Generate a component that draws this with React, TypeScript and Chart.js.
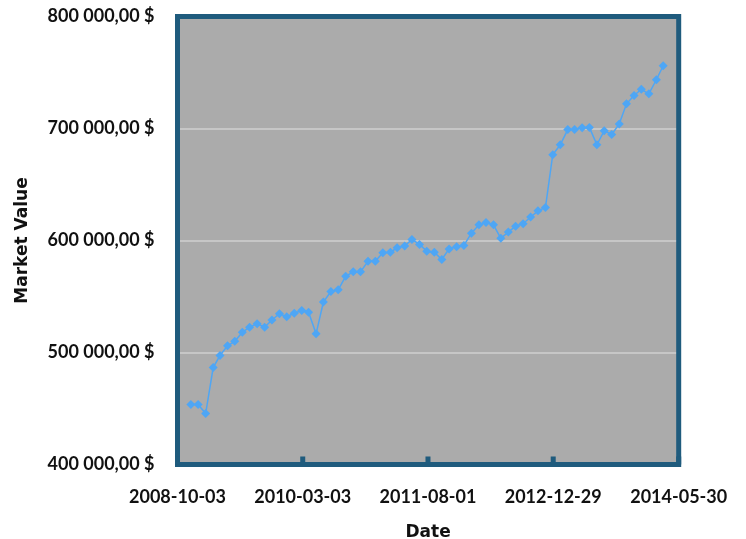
import React, { useEffect, useRef } from "react";
import { Chart, registerables } from "chart.js";

Chart.register(...registerables);

const dates: string[] = [
  "2008-11-27", "2008-12-27",
  "2009-01-27", "2009-02-27", "2009-03-27", "2009-04-27", "2009-05-27", "2009-06-27",
  "2009-07-27", "2009-08-27", "2009-09-27", "2009-10-27", "2009-11-27", "2009-12-27",
  "2010-01-27", "2010-02-27", "2010-03-27", "2010-04-27", "2010-05-27", "2010-06-27",
  "2010-07-27", "2010-08-27", "2010-09-27", "2010-10-27", "2010-11-27", "2010-12-27",
  "2011-01-27", "2011-02-27", "2011-03-27", "2011-04-27", "2011-05-27", "2011-06-27",
  "2011-07-27", "2011-08-27", "2011-09-27", "2011-10-27", "2011-11-27", "2011-12-27",
  "2012-01-27", "2012-02-27", "2012-03-27", "2012-04-27", "2012-05-27", "2012-06-27",
  "2012-07-27", "2012-08-27", "2012-09-27", "2012-10-27", "2012-11-27", "2012-12-27",
  "2013-01-27", "2013-02-27", "2013-03-27", "2013-04-27", "2013-05-27", "2013-06-27",
  "2013-07-27", "2013-08-27", "2013-09-27", "2013-10-27", "2013-11-27", "2013-12-27",
  "2014-01-27", "2014-02-27", "2014-03-27",
];

const marketValues: number[] = [
  453600, 453600,
  445500, 486500, 497300, 506000, 510000, 518000,
  522600, 525600, 522600, 529000, 534600, 532000,
  535000, 537500, 536000, 516700, 545000, 554500,
  556000, 568000, 572000, 572000, 581500, 581500,
  589000, 589600, 593500, 595000, 601000, 596500,
  590500, 589600, 583000, 592500, 594500, 595600,
  606500, 614000, 616000, 614000, 602000, 607500,
  612800, 615000, 621000, 626500, 629500, 676600,
  685500, 699000, 699000, 700700, 701000, 685500,
  698000, 694700, 704000, 722000, 729500, 735000,
  731000, 743500, 756000,
];

const xTickLabels: string[] = ["2008-10-03", "2010-03-03", "2011-08-01", "2012-12-29", "2014-05-30"];
const yTickValues: number[] = [400000, 500000, 600000, 700000, 800000];

const toMs = (s: string) => Date.parse(s + "T00:00:00Z");
const xTickMs = xTickLabels.map(toMs);

function formatMoney(v: number): string {
  const s = Math.round(v).toString();
  const grouped = s.replace(/\B(?=(\d{3})+(?!\d))/g, " ");
  return grouped + ",00 $";
}

const BORDER = "#1f5b7d";

const framePlugin = {
  id: "frame",
  beforeDraw(chart: any) {
    const { ctx, chartArea: a } = chart;
    ctx.save();
    ctx.fillStyle = "#ababab";
    ctx.fillRect(a.left, a.top, a.right - a.left, a.bottom - a.top);
    ctx.restore();
  },
  afterDraw(chart: any) {
    const { ctx, chartArea: a } = chart;
    ctx.save();
    ctx.strokeStyle = BORDER;
    ctx.lineWidth = 5;
    ctx.strokeRect(a.left, a.top, a.right - a.left, a.bottom - a.top);
    ctx.fillStyle = BORDER;
    const xs = chart.scales.x;
    xTickMs.forEach((v) => {
      const px = xs.getPixelForValue(v);
      ctx.fillRect(px - 2.5, a.bottom - 8, 5, 8);
    });
    ctx.restore();
  },
};

export default function App() {
  const ref = useRef<HTMLCanvasElement | null>(null);
  useEffect(() => {
    if (!ref.current) return;
    const points = dates.map((d, i) => ({ x: toMs(d), y: marketValues[i] }));
    const chart = new Chart(ref.current, {
      type: "line",
      data: {
        datasets: [
          {
            label: "Market Value",
            data: points,
            borderColor: "#4ea6f5",
            backgroundColor: "#4ea6f5",
            borderWidth: 1.5,
            pointStyle: "rectRot",
            pointRadius: 4.5,
            pointBorderWidth: 0,
            tension: 0,
          },
        ],
      },
      options: {
        responsive: false,
        animation: false,
        devicePixelRatio: 1,
        layout: { padding: { top: 16.5, right: 67.3, left: 0, bottom: 0 } },
        plugins: { legend: { display: false }, tooltip: { enabled: false } },
        scales: {
          x: {
            type: "linear",
            min: xTickMs[0],
            max: xTickMs[xTickMs.length - 1],
            afterBuildTicks: (scale: any) => {
              scale.ticks = xTickMs.map((v) => ({ value: v }));
            },
            afterFit: (scale: any) => {
              scale.height = 74.5;
              scale.paddingLeft = 0;
              scale.paddingRight = 0;
              scale.paddingTop = 0;
              scale.paddingBottom = 0;
            },
            grid: { display: false, drawTicks: false },
            border: { display: false },
            ticks: {
              autoSkip: false,
              maxRotation: 0,
              padding: 22,
              color: "#111",
              font: { family: "Lato", weight: "bold", size: 18 },
              callback: (v: any) => {
                const i = xTickMs.indexOf(Number(v));
                return i >= 0 ? xTickLabels[i] : "";
              },
            },
            title: {
              display: true,
              text: "Date",
              color: "#111",
              font: { family: "DejaVu Sans", weight: "bold", size: 17, lineHeight: 0.8 },
              padding: { top: 0, bottom: 0 },
            },
          },
          y: {
            type: "linear",
            min: yTickValues[0],
            max: yTickValues[yTickValues.length - 1],
            afterBuildTicks: (scale: any) => {
              scale.ticks = yTickValues.map((v) => ({ value: v }));
            },
            afterFit: (scale: any) => {
              scale.width = 177.5;
              scale.paddingLeft = 0;
              scale.paddingRight = 0;
              scale.paddingTop = 0;
              scale.paddingBottom = 0;
            },
            grid: { color: "#c6c6c6", lineWidth: 2, drawTicks: false },
            border: { display: false },
            ticks: {
              padding: 23,
              color: "#111",
              font: { family: "Lato", weight: "bold", size: 18 },
              callback: (v: any) => formatMoney(Number(v)),
            },
            title: {
              display: true,
              text: "Market Value",
              color: "#111",
              font: { family: "DejaVu Sans", weight: "bold", size: 17, lineHeight: 1 },
              padding: { top: 14, bottom: 0 },
            },
          },
        },
      },
      plugins: [framePlugin],
    } as any);
    return () => chart.destroy();
  }, []);
  return (
    <div style={{ position: "fixed", left: 0, top: 0, width: 746, height: 539, background: "#fff" }}>
      <canvas ref={ref} width={746} height={539} />
    </div>
  );
}
